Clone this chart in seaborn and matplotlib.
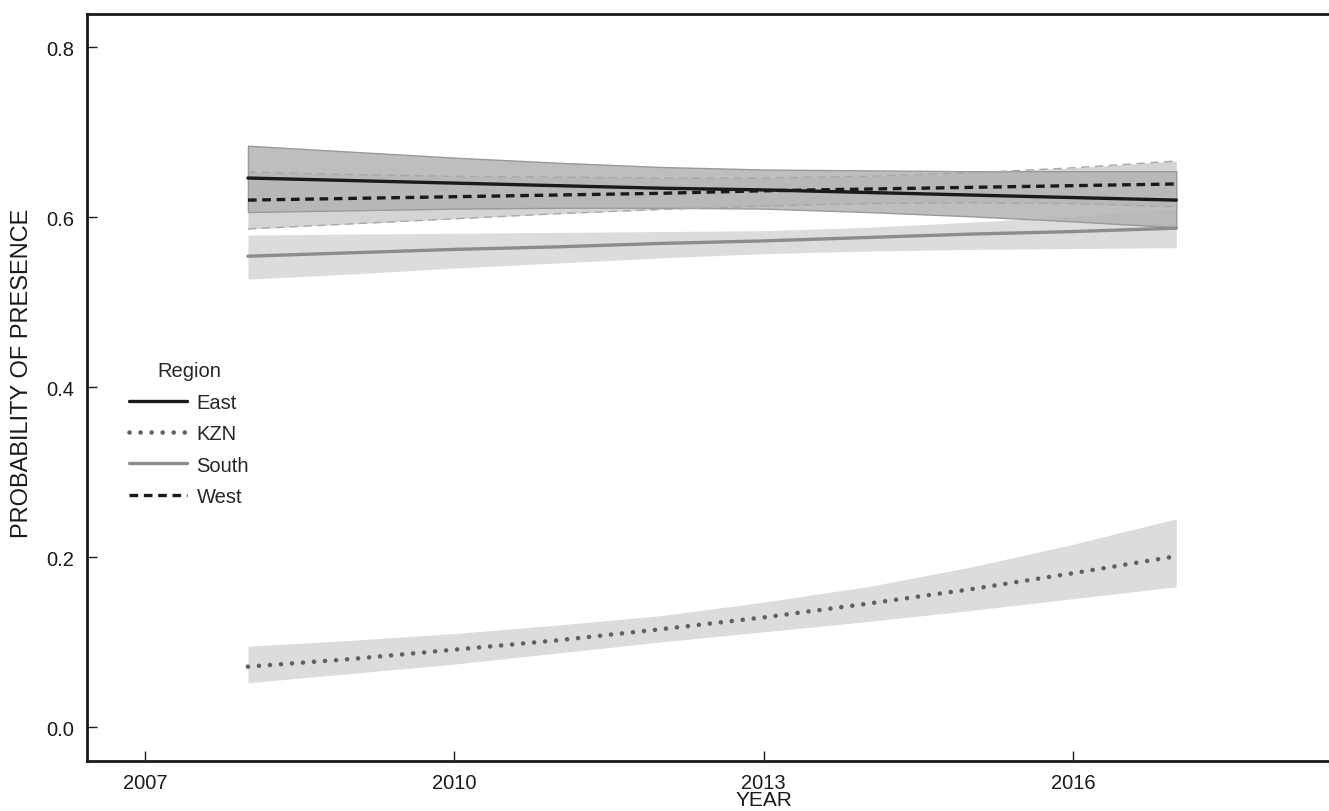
"""Probability of presence by region, 2008-2017"""
import numpy as np
import pandas as pd
import matplotlib
matplotlib.use('Agg')
import matplotlib.pyplot as plt
import seaborn as sns

sns.set_theme(style='white')
plt.rcParams['font.family'] = ['Liberation Sans', 'DejaVu Sans']

# data
years = [2008, 2009, 2010, 2011, 2012, 2013, 2014, 2015, 2016, 2017]

east = [0.646, 0.643, 0.640, 0.637, 0.634, 0.632, 0.629, 0.626, 0.623, 0.620]
east_hi = [0.684, 0.677, 0.670, 0.664, 0.659, 0.656, 0.655, 0.654, 0.654, 0.654]
east_lo = [0.606, 0.608, 0.610, 0.611, 0.611, 0.610, 0.606, 0.601, 0.595, 0.588]

west = [0.620, 0.622, 0.624, 0.626, 0.628, 0.631, 0.633, 0.635, 0.637, 0.639]
west_hi = [0.653, 0.650, 0.648, 0.647, 0.646, 0.646, 0.648, 0.652, 0.658, 0.666]
west_lo = [0.586, 0.592, 0.598, 0.604, 0.609, 0.613, 0.616, 0.617, 0.616, 0.612]

south = [0.554, 0.558, 0.562, 0.565, 0.569, 0.572, 0.576, 0.580, 0.583, 0.587]
south_hi = [0.579, 0.580, 0.581, 0.582, 0.583, 0.584, 0.588, 0.594, 0.601, 0.610]
south_lo = [0.527, 0.533, 0.540, 0.546, 0.552, 0.557, 0.560, 0.562, 0.563, 0.564]

kzn = [0.071, 0.080, 0.091, 0.102, 0.115, 0.129, 0.145, 0.162, 0.181, 0.201]
kzn_hi = [0.095, 0.102, 0.110, 0.120, 0.131, 0.147, 0.165, 0.188, 0.215, 0.245]
kzn_lo = [0.052, 0.063, 0.074, 0.087, 0.100, 0.112, 0.124, 0.137, 0.151, 0.165]

regions = ['East', 'KZN', 'South', 'West']
x_ticks = [2007, 2010, 2013, 2016]
y_ticks = [0.0, 0.2, 0.4, 0.6, 0.8]

df = pd.DataFrame({
    'YEAR': years * 4,
    'p': east + kzn + south + west,
    'Region': np.repeat(regions, len(years)),
})

styles = {
    'East': dict(color='#1a1a1a', linestyle='-', linewidth=2.4),
    'KZN': dict(color='#606060', linestyle=(0, (0.01, 2.4)), linewidth=3.3, dash_capstyle='round'),
    'South': dict(color='#8c8c8c', linestyle='-', linewidth=2.4),
    'West': dict(color='#1a1a1a', linestyle=(0, (2.6, 1.7)), linewidth=2.4),
}

fig = plt.figure(figsize=(13.29, 8.12), dpi=100)
ax = fig.add_axes([87 / 1329, 1 - 762 / 812, 1 - 87 / 1329, (762 - 15) / 812])

# confidence bands
ax.fill_between(years, kzn_lo, kzn_hi, color='#dcdcdc', linewidth=0)
ax.fill_between(years, south_lo, south_hi, color='#dcdcdc', linewidth=0)
ax.fill_between(years, west_lo, west_hi, color='#a0a0a0', alpha=0.45, linewidth=0)
ax.fill_between(years, east_lo, east_hi, facecolor=(0.7, 0.7, 0.7, 0.85),
                edgecolor='#9a9a9a', linewidth=1)
ax.plot(years, west_hi, color='#a8a8a8', linestyle=(0, (6, 4)), linewidth=1)
ax.plot(years, west_lo, color='#a8a8a8', linestyle=(0, (6, 4)), linewidth=1)

for r in regions:
    sub = df[df['Region'] == r]
    sns.lineplot(data=sub, x='YEAR', y='p', ax=ax, errorbar=None, label=r, **styles[r])

ax.set_xlim(2006.44, 2018.48)
ax.set_ylim(-0.040, 0.839)
ax.set_xticks(x_ticks)
ax.set_yticks(y_ticks)
ax.set_yticklabels([f'{v:.1f}' for v in y_ticks])
ax.tick_params(direction='in', length=7, width=1, color='#1a1a1a', labelsize=14.5,
               labelcolor='#1a1a1a', pad=9, bottom=True, left=True)

for side in ['left', 'bottom', 'top']:
    ax.spines[side].set_color('#1a1a1a')
    ax.spines[side].set_linewidth(2)
ax.spines['right'].set_visible(False)

ax.set_xlabel('YEAR', fontsize=15, color='#1a1a1a')
ax.set_ylabel('PROBABILITY OF PRESENCE', fontsize=17, color='#1a1a1a')
ax.xaxis.set_label_coords((764 - 87) / 1242, -29 / 747)
ax.yaxis.set_label_coords(-54 / 1242, 0.52)

leg = ax.legend(title='Region', loc='upper left', frameon=False, fontsize=14.5, title_fontsize=14.5,
                bbox_to_anchor=(119 / 1329, 1 - 352 / 812), bbox_transform=fig.transFigure,
                handlelength=2.9, handletextpad=0.45, labelspacing=0.62, borderpad=0)
for line in leg.get_lines():
    if line.get_label() == 'KZN':
        line.set_dash_capstyle('round')

fig.savefig('out.png', dpi=100)
